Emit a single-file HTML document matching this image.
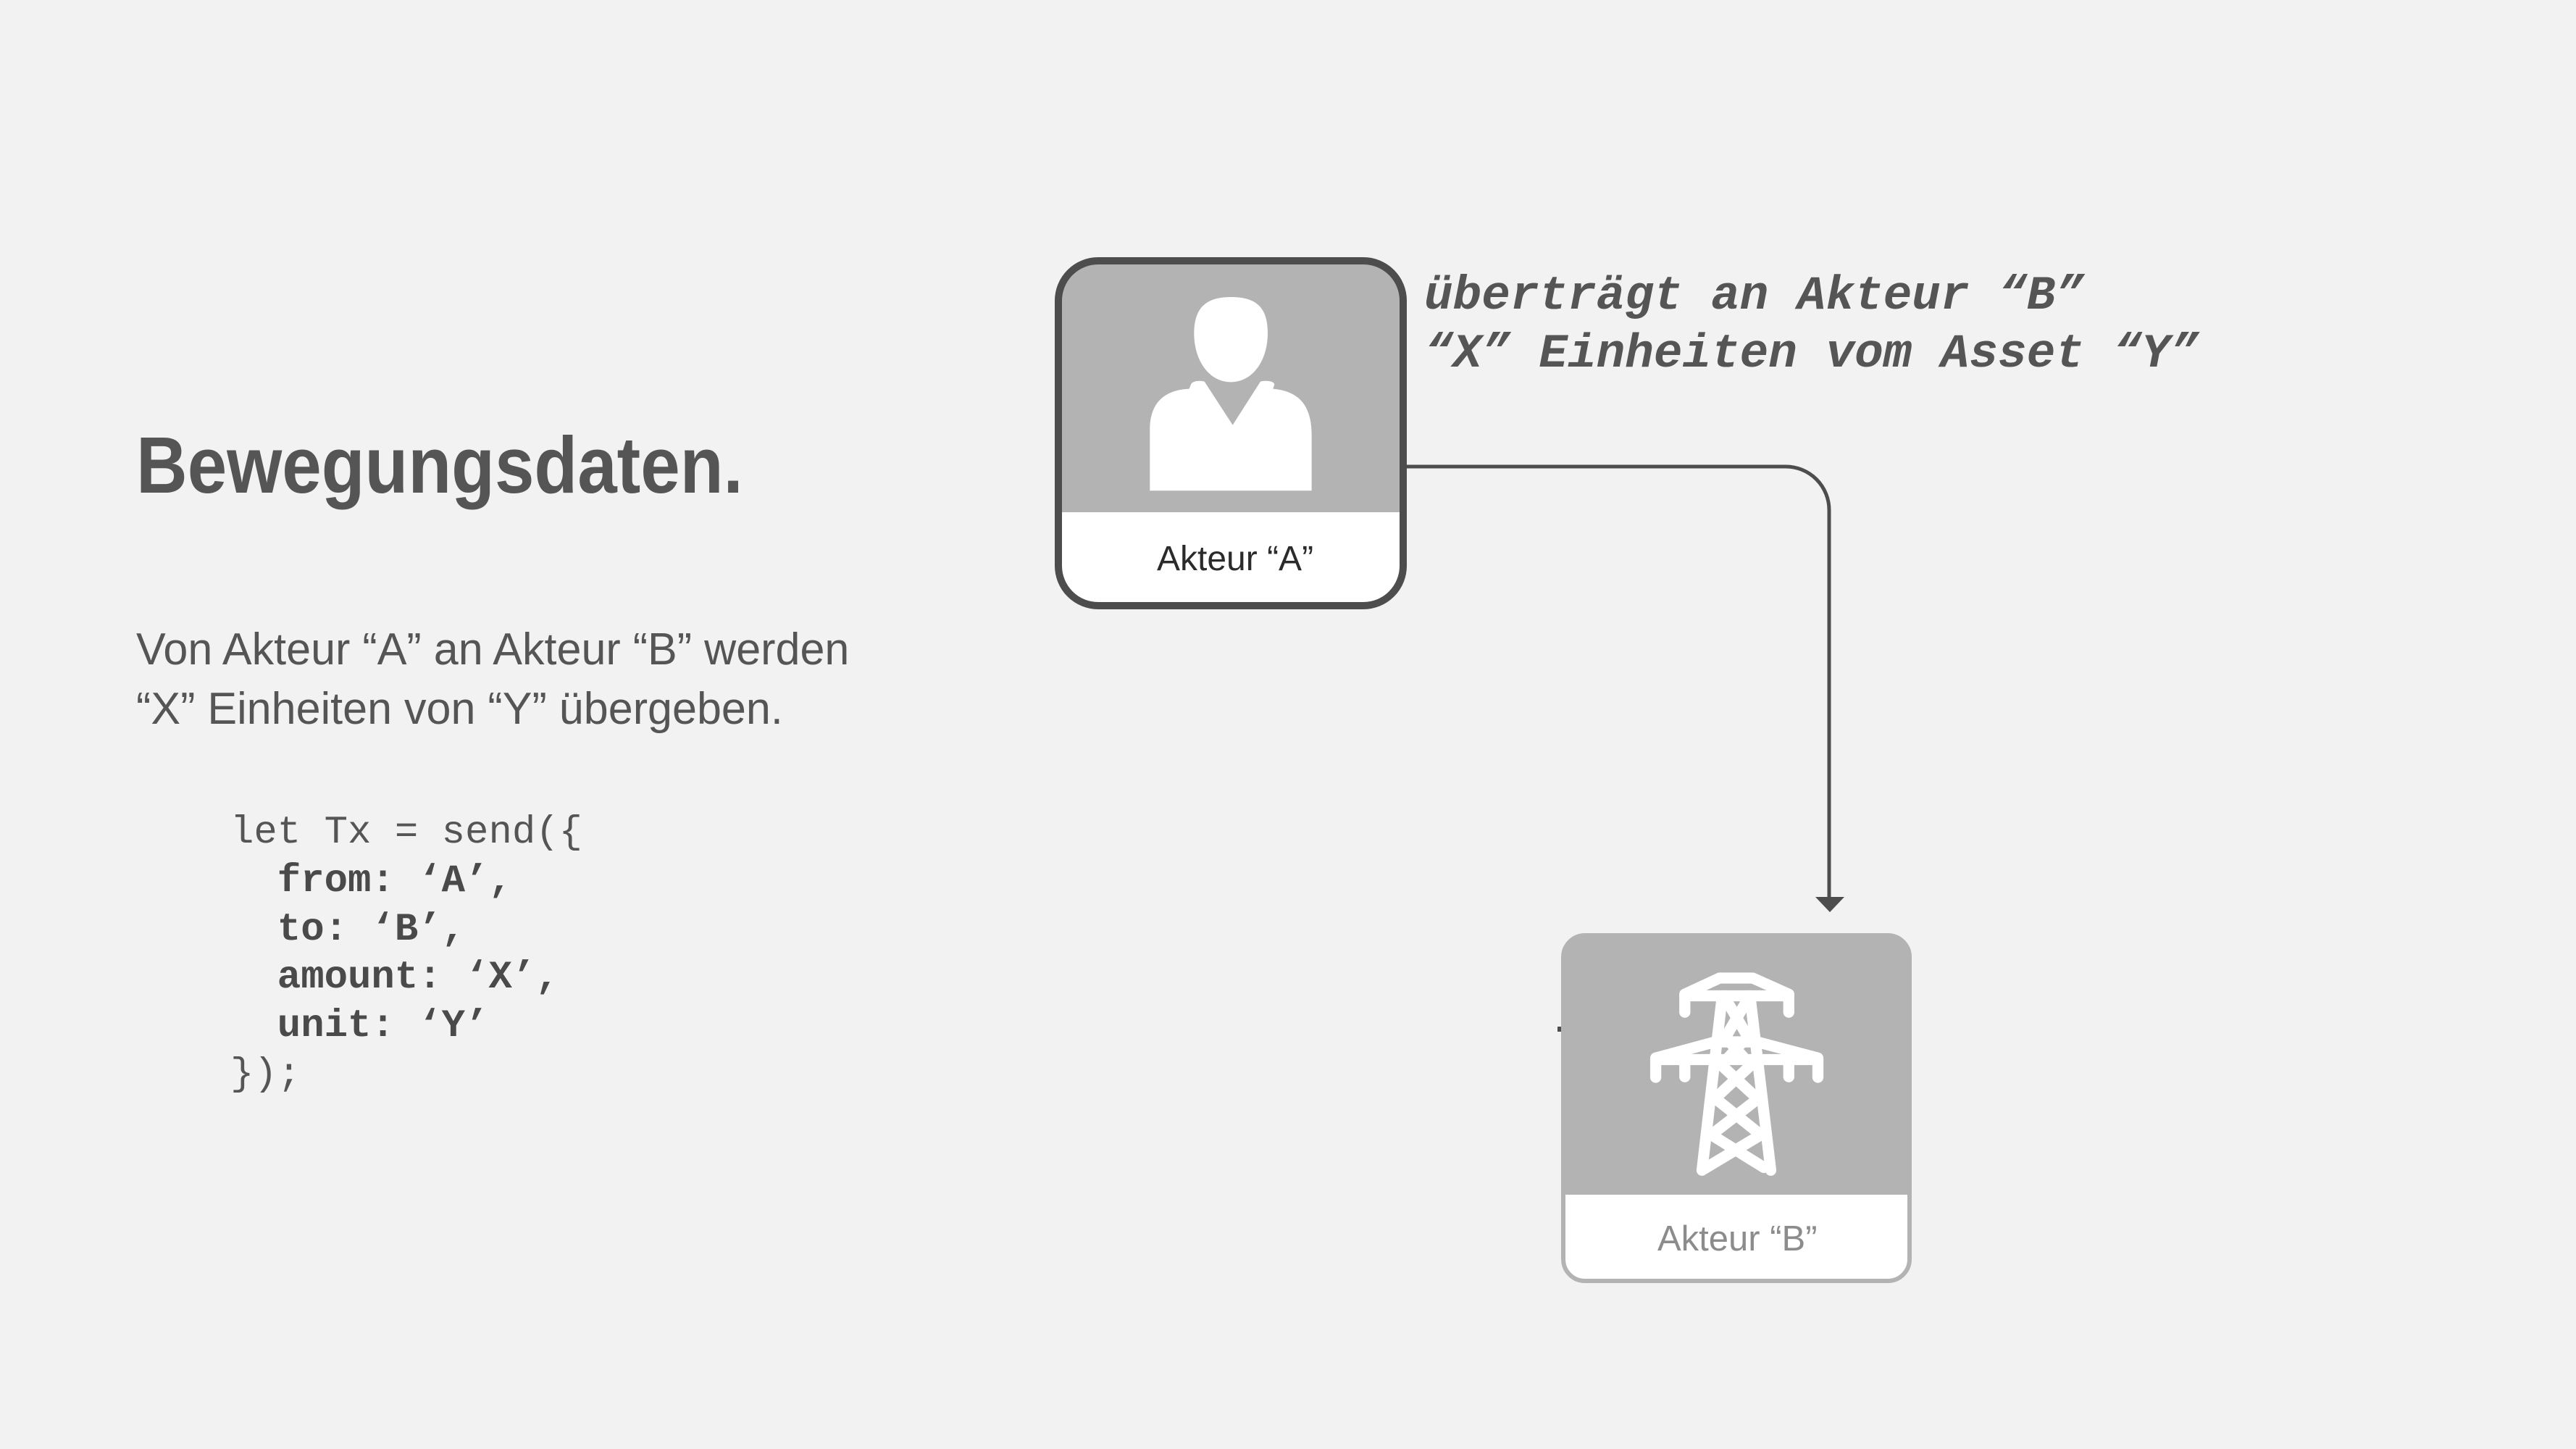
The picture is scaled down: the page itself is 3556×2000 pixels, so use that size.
<!DOCTYPE html>
<html><head><meta charset="utf-8"><style>
html,body{margin:0;padding:0;background:#f2f2f2;}
body{width:3556px;height:2000px;position:relative;overflow:hidden;font-family:"Liberation Sans",sans-serif;}
.t{position:absolute;white-space:pre;line-height:1;}
</style></head><body>
<svg width="3556" height="2000" viewBox="0 0 3556 2000" style="position:absolute;left:0;top:0">
  <rect x="1461" y="360" width="476" height="476" rx="55" fill="#ffffff"/>
  <path d="M1461,707 V415 a55,55 0 0 1 55,-55 H1882 a55,55 0 0 1 55,55 V707 Z" fill="#b3b3b3"/>
  <rect x="1461" y="360" width="476" height="476" rx="55" fill="none" stroke="#4d4d4d" stroke-width="10"/>
  <g transform="translate(1440,340) scale(0.3333)" fill="#fff">
    <path d="M777,210 C880,210 930,250 930,360 C930,470 870,562 777,562 C685,562 625,470 625,360 C625,250 680,210 777,210 Z"/>
    <path d="M442,1012 L442,760 C442,650 500,595 605,590 L612,572 C618,556 650,555 668,560 L785,740 L900,560 C920,555 955,556 958,572 L952,590 C1060,600 1112,660 1112,780 L1112,1012 Z"/>
  </g>
  <path d="M1942,644 H2465 a60,60 0 0 1 60,60 V1240" fill="none" stroke="#4d4d4d" stroke-width="5"/>
  <polygon points="2506,1238 2546,1238 2526,1259" fill="#4d4d4d"/>
  <rect x="2150" y="1417" width="5" height="7" fill="#4d4d4d"/>
  <rect x="2158" y="1291" width="478" height="477" rx="30" fill="#ffffff"/>
  <path d="M2158,1649 V1321 a30,30 0 0 1 30,-30 H2606 a30,30 0 0 1 30,30 V1649 Z" fill="#b3b3b3"/>
  <rect x="2158" y="1291" width="478" height="477" rx="30" fill="none" stroke="#b3b3b3" stroke-width="6"/>
  <g transform="translate(2100,1200) scale(0.3827)" fill="none" stroke="#fff" stroke-width="40" stroke-linecap="round" stroke-linejoin="round">
    <polyline points="590,515 590,450 715,392 835,392 965,450 965,515"/>
    <line x1="590" y1="456" x2="965" y2="456"/>
    <line x1="725" y1="456" x2="652" y2="1085"/>
    <line x1="825" y1="456" x2="900" y2="1085"/>
    <polyline points="485,750 485,680 700,622 850,622 1070,680 1070,750"/>
    <line x1="485" y1="686" x2="1070" y2="686"/>
    <line x1="590" y1="686" x2="590" y2="748"/>
    <line x1="965" y1="686" x2="965" y2="748"/>
    <line x1="745" y1="480" x2="815" y2="600"/>
    <line x1="810" y1="480" x2="740" y2="600"/>
    <line x1="740" y1="610" x2="810" y2="686"/>
    <line x1="810" y1="610" x2="740" y2="686"/>
    <line x1="715" y1="700" x2="845" y2="820"/>
    <line x1="835" y1="700" x2="705" y2="820"/>
    <line x1="705" y1="830" x2="855" y2="950"/>
    <line x1="850" y1="830" x2="695" y2="950"/>
    <line x1="690" y1="960" x2="875" y2="1075"/>
    <line x1="860" y1="960" x2="660" y2="1080"/>
  </g>
</svg>

<div class="t" style="left:1597px;top:748px;font-size:48px;color:#2b2b2b;">Akteur “A”</div>
<div class="t" style="left:2288px;top:1686px;font-size:49px;color:#8c8c8c;">Akteur “B”</div>

<div class="t" style="left:1966px;top:369px;font-family:'Liberation Mono',monospace;font-weight:bold;font-style:italic;font-size:66px;color:#555;line-height:80px;">überträgt an Akteur “B”
“X” Einheiten vom Asset “Y”</div>

<div class="t" style="left:188px;top:588px;font-size:110px;font-weight:bold;color:#555;transform:scaleX(0.89);transform-origin:0 0;">Bewegungsdaten.</div>

<div class="t" style="left:188px;top:856px;font-size:62px;color:#555;line-height:82px;transform:scaleX(0.985);transform-origin:0 0;">Von Akteur “A” an Akteur “B” werden
“X” Einheiten von “Y” übergeben.</div>

<div class="t" style="left:318px;top:1117px;font-family:'Liberation Mono',monospace;font-size:54px;color:#555;line-height:66.8px;">let Tx = send({
<b style="color:#4a4a4a">  from: ‘A’,</b>
<b style="color:#4a4a4a">  to: ‘B’,</b>
<b style="color:#4a4a4a">  amount: ‘X’,</b>
<b style="color:#4a4a4a">  unit: ‘Y’</b>
});</div>
</body></html>
